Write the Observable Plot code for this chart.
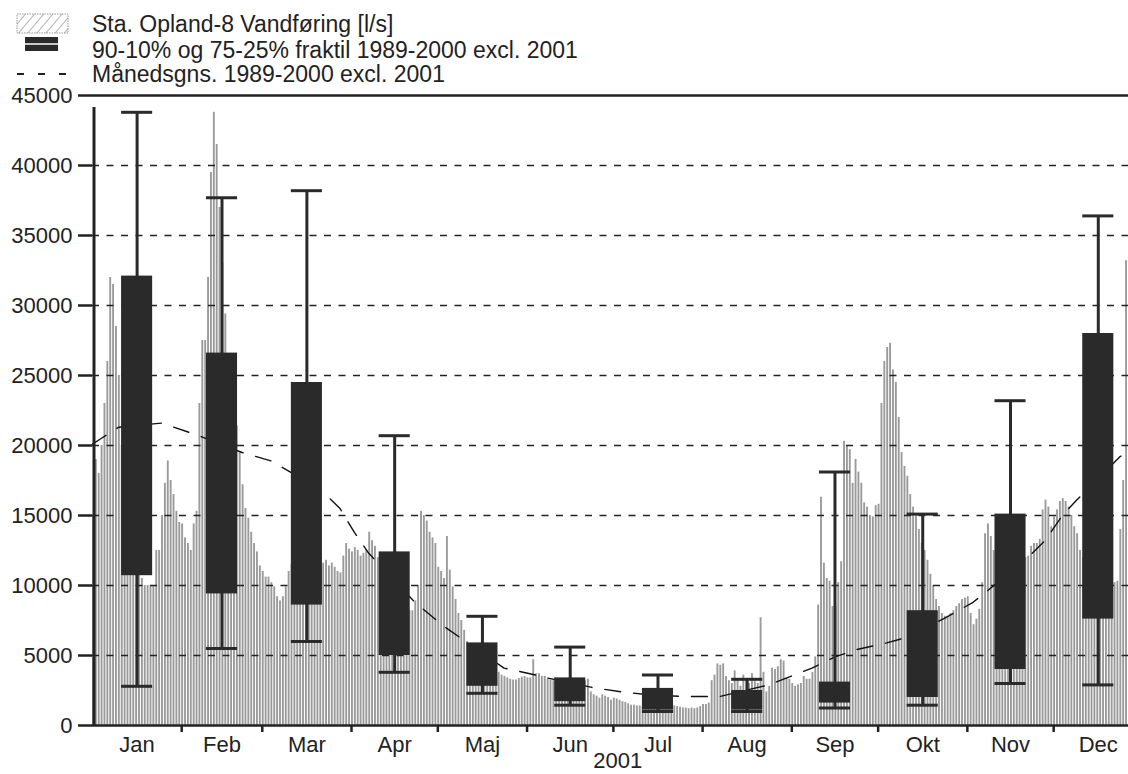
<!DOCTYPE html>
<html><head><meta charset="utf-8">
<script src="https://cdn.jsdelivr.net/npm/d3@7"></script>
<script src="https://cdn.jsdelivr.net/npm/@observablehq/plot@0.6"></script>
<style>
body{margin:0;background:#fff;font-family:"Liberation Sans",Arial,sans-serif;color:#222;overflow:hidden;}
#legend{display:block;}
#legend text{font-family:"Liberation Sans",Arial,sans-serif;font-size:23px;fill:#222;}
</style></head><body>
<svg id="legend" width="1128" height="89">
  <defs>
    <pattern id="hatch" width="7" height="7" patternUnits="userSpaceOnUse" patternTransform="rotate(40)">
      <line x1="0" y1="0" x2="0" y2="7" stroke="#8a8a8a" stroke-width="1.3"/>
    </pattern>
  </defs>
  <rect x="17" y="14" width="51" height="19" fill="url(#hatch)" stroke="#999" stroke-width="1" stroke-dasharray="1.5,1"/>
  <rect x="25" y="37" width="33" height="14" fill="#2a2a2a"/>
  <line x1="25" x2="58" y1="44" y2="44" stroke="#fff" stroke-width="1.5"/>
  <line x1="17" x2="68" y1="74" y2="74" stroke="#222" stroke-width="1.8" stroke-dasharray="7,14"/>
  <text x="92" y="32">Sta. Opland-8 Vandføring [l/s]</text>
  <text x="92" y="58">90-10% og 75-25% fraktil 1989-2000 excl. 2001</text>
  <text x="92" y="82">Månedsgns. 1989-2000 excl. 2001</text>
</svg>
<div id="chart"></div>
<script>
// Daily flow 2001 [l/s], per month
const jan = [15000,19000,18000,20000,23000,26000,32000,31500,28500,25000,20000,18000,16000,14000,13000,12000,11000,10500,10000,10000,10000,10000,12500,12500,15000,17300,18900,17500,16500,15300,14500];
const feb = [14400,13400,13000,12500,14400,15300,23000,27500,27500,32000,39500,43800,41500,37000,33000,29400,26000,24000,22500,21400,19500,17200,15500,14800,13800,13000,12400,11400];
const mar = [11000,10600,10600,10200,9900,9200,8900,9200,9900,11000,11500,12000,12500,12000,11500,11500,11000,11500,12000,11500,11500,11600,11800,11400,11600,11300,11000,10900,12100,13000,12600];
const apr = [12400,12700,12500,12100,12300,12500,13800,13200,12800,12000,11000,10500,10000,9500,9000,8500,8200,8000,8200,8000,8200,8200,8900,10000,15300,15000,14600,13800,13400,13000];
const maj = [11300,11000,10500,13500,11100,9900,9000,8000,7500,6800,6000,5500,5200,4800,4600,4400,4200,4100,4000,3900,3900,3800,3600,3500,3400,3300,3250,3250,3350,3450,3500];
const jun = [3400,3400,4700,3700,3700,3500,3500,3300,3250,3200,3100,3000,2900,2800,2700,2600,2600,2700,2900,3100,3200,3300,2400,2200,2100,1950,2200,2100,2000,1800];
const jul = [1950,1900,1800,1700,1650,1550,1450,1450,1400,1400,1350,1300,1300,1250,1250,1200,1200,1150,1200,1250,1300,1400,1350,1300,1250,1250,1200,1250,1200,1250,1350];
const aug = [1500,1500,1600,3200,3600,4400,4300,4400,3500,3200,3000,3900,3200,2800,3600,3300,3000,3700,3300,3000,7700,3800,2400,2800,4100,4000,4200,4700,4600,3400,3300];
const sep = [3000,2800,2900,3000,3500,3300,3300,3800,4900,8600,16300,11600,10500,10300,8500,8500,10200,11700,20300,20000,19700,17300,19000,18100,17300,15900,15600,15000,14900,15700];
const okt = [15800,23000,26000,27000,27300,25400,24500,22000,19500,18500,17800,16500,15600,15000,14000,13000,12500,11800,10800,10000,9000,8500,8000,7800,7800,8000,8200,8500,8700,9000,9100];
const nov = [9200,8000,7200,7600,8300,10200,13700,14400,13500,12500,12000,11500,11000,10500,10000,10500,11000,11500,12000,12000,12000,12100,12800,13000,13000,13300,15400,16100,15600,14200];
const dec = [14900,15400,16000,16200,16000,15600,15000,14200,13700,12500,12000,11500,11000,10500,10000,10000,10000,10000,10000,10200,10200,10200,10300,14000,17500,33200,33000];

// Month labels and day-of-year positions
const months = ["Jan","Feb","Mar","Apr","Maj","Jun","Jul","Aug","Sep","Okt","Nov","Dec"];
const monthStart = [0,31,59,90,120,151,181,212,243,273,304,334];
const monthMid = [15.5,45,74.5,105,135.5,166,196.5,227.5,258,288.5,319,349.5];

// Fractiles 1989-2000
const p90 = [43800,37700,38200,20700,7800,5600,3600,3300,18100,15100,23200,36400];
const p75 = [32100,26600,24500,12400,5900,3400,2650,2500,3100,8200,15100,28000];
const p25 = [10700,9400,8600,5000,2800,1700,1100,1100,1600,2000,4000,7600];
const p10 = [2800,5500,6000,3800,2300,1450,1000,1000,1250,1450,3000,2900];

// Monthly mean line 1989-2000 (day of year, flow)
const meanDay  = [0,3,9,24,37,52,62,79,86,91,96,112,122,143,152,158,174,184,193,205,218,235,245,250,258,266,276,283,296,306,324,331,337,342,357,360];
const meanFlow = [20100,20500,21300,21600,20700,19500,18900,16900,15500,13800,12300,8800,7100,4100,3700,3400,2700,2400,2200,2070,2070,2900,3700,4100,4900,5450,5900,6300,7650,8800,11800,13200,15000,16100,19200,19500];

const yTicks = [0,5000,10000,15000,20000,25000,30000,35000,40000,45000];
const gridVals = [5000,10000,15000,20000,25000,30000,35000,40000];

const flow = [...jan,...feb,...mar,...apr,...maj,...jun,...jul,...aug,...sep,...okt,...nov,...dec];
const dayIdx = d3.range(flow.length);
const boxIdx = d3.range(12);
const meanIdx = d3.range(meanDay.length);
const half = 5.4;
const ink = "#2a2a2a";

const chart = Plot.plot({
  width: 1128, height: 685,
  marginTop: 6, marginBottom: 49, marginLeft: 92, marginRight: 0,
  style: {fontFamily: "Liberation Sans, Arial, sans-serif", fontSize: "22px", color: "#222", background: "#fff", overflow: "visible"},
  x: {domain: [0, 360], axis: null},
  y: {domain: [0, 45000], axis: null},
  marks: [
    Plot.rectY(dayIdx, {x1: i => i, x2: i => i + 1, y: i => flow[i], fill: "#9a9a9a", insetRight: 1, clip: true}),
    Plot.ruleY(gridVals, {stroke: "#222", strokeWidth: 1.6, strokeDasharray: "7,7.5"}),
    Plot.line(meanIdx, {x: i => meanDay[i], y: i => meanFlow[i], stroke: "#111", strokeWidth: 1.4, strokeDasharray: "16,13", clip: true}),
    Plot.ruleX(boxIdx, {x: i => monthMid[i], y1: i => p10[i], y2: i => p90[i], stroke: ink, strokeWidth: 3}),
    Plot.rect(boxIdx, {x1: i => monthMid[i] - half, x2: i => monthMid[i] + half, y1: i => p25[i], y2: i => p75[i], fill: ink}),
    Plot.ruleY(boxIdx, {y: i => p90[i], x1: i => monthMid[i] - half, x2: i => monthMid[i] + half, stroke: ink, strokeWidth: 3}),
    Plot.ruleY(boxIdx, {y: i => p10[i], x1: i => monthMid[i] - half, x2: i => monthMid[i] + half, stroke: ink, strokeWidth: 3}),
    Plot.ruleY([45000], {stroke: "#222", strokeWidth: 2.5}),
    Plot.ruleY([0], {stroke: "#222", strokeWidth: 2.5}),
    Plot.ruleX([0], {y1: 0, y2: 45000, dx: 1.5, insetBottom: -12, stroke: "#222", strokeWidth: 3}),
    Plot.axisY({ticks: yTicks, tickSize: 14, tickPadding: 6, tickFormat: d3.format("d"), strokeWidth: 2.5, fontSize: 22, label: null}),
    Plot.axisX({ticks: monthStart.slice(1), tickSize: 7, tickFormat: () => "", strokeWidth: 2.5, label: null}),
    Plot.axisX({ticks: monthMid, tickSize: 0, tickPadding: 11, tickFormat: d => months[monthMid.indexOf(d)], fontSize: 22, label: null}),
    Plot.text(["2001"], {x: 182.5, frameAnchor: "bottom", dy: 42, fontSize: 22, fill: "#222"})
  ]
});
document.getElementById("chart").append(chart);
</script></body></html>
